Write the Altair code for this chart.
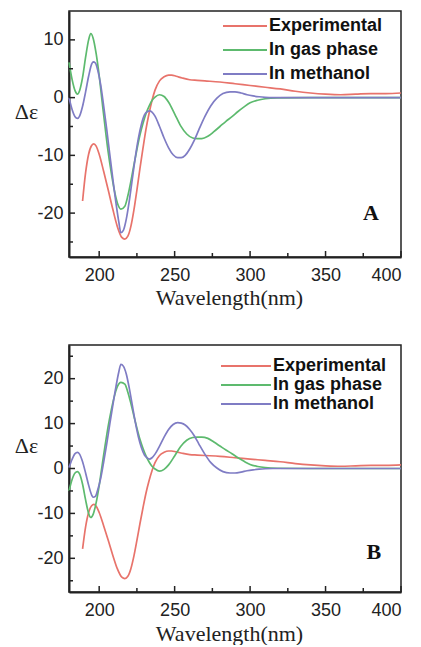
import altair as alt
import pandas as pd

SERIES = ["Experimental", "In gas phase", "In methanol"]
COLORS = ["#e8736b", "#5dba6e", "#7f7cc4"]

# Experimental spectrum (same in both panels)
EXP_WL = [189, 191, 193, 195, 196.5, 198, 200, 203, 206, 209, 212, 215, 217, 219, 221, 223, 225, 227, 229,
          231, 233, 235, 237, 240, 243, 246, 248, 251, 255, 260, 265, 270, 280, 290, 300, 310, 320, 330, 340,
          350, 360, 370, 380, 390, 400]
EXP_VAL = [-17.9, -13, -9.8, -8.3, -8.0, -8.4, -9.8, -12.8, -16, -19.3, -22.3, -24.2, -24.5, -24, -22.3, -19.5,
           -16, -12.3, -8.8, -5.5, -2.8, -0.5, 1.3, 2.9, 3.6, 3.9, 3.9, 3.7, 3.4, 3.1, 3.0, 2.9, 2.7, 2.4, 2.1,
           1.8, 1.5, 1.1, 0.8, 0.6, 0.5, 0.6, 0.7, 0.7, 0.8]

# In gas phase
GAS_WL = [180, 182, 184, 185.6, 187, 189, 191, 193, 194.4, 196, 198, 200, 202, 204, 206, 208, 210, 212, 214.4,
          217, 219, 221, 223, 225, 227, 229, 231, 233, 235, 237, 240, 243, 246, 250, 254, 258, 262, 265, 268,
          272, 276, 280, 284, 288, 292, 296, 300, 305, 310, 318, 340, 360, 380, 400]
GAS_A = [6.1, 3.2, 1.2, 0.6, 1.2, 3.5, 7, 10, 11.1, 10.3, 7.6, 3.8, -0.8, -5.3, -9.5, -13, -16, -18.2, -19.3,
         -18.8, -17, -14.5, -11.7, -9, -6.5, -4.5, -2.8, -1.5, -0.5, 0.1, 0.5, 0.2, -0.8, -2.8, -4.9, -6.3, -7,
         -7.1, -7.1, -6.7, -5.9, -5.0, -4.1, -3.3, -2.4, -1.6, -0.9, -0.45, -0.2, -0.05, 0, 0, 0, 0]
GAS_B = [-5.0, -2.5, -1.0, -0.7, -1.2, -3.5, -7, -10, -10.9, -10.2, -7.6, -3.8, 0.8, 5.3, 9.5, 13, 16, 18.2, 19.2,
         18.8, 17, 14.5, 11.7, 9, 6.5, 4.5, 2.8, 1.5, 0.5, -0.1, -0.6, -0.2, 0.8, 2.8, 4.9, 6.3, 6.9,
         7.0, 7.0, 6.7, 5.9, 5.0, 4.1, 3.3, 2.4, 1.6, 0.9, 0.45, 0.2, 0.05, 0, 0, 0, 0]

# In methanol
MEOH_WL = [180, 182, 184, 185.6, 187, 189, 191, 193, 195, 196, 197.5, 199, 201, 203, 205, 207, 209, 211, 213,
           214.4, 216, 218, 220, 222, 224, 226, 228, 230, 232, 233.3, 235, 237, 240, 243, 246, 249, 252, 254.4,
           257, 260, 263, 266, 270, 274, 278, 282, 286.7, 290, 294, 298, 302, 306, 310, 315, 320, 330, 350,
           375, 400]
MEOH_A = [0, -2, -3.3, -3.6, -3.2, -1.5, 1, 3.7, 5.8, 6.2, 6, 4.8, 2.2, -1.5, -5.5, -9.8, -14, -18, -21.5,
          -23.4, -23, -21, -17.8, -14, -10.2, -7, -4.6, -3, -2.4, -2.3, -2.5, -3.2, -5, -7, -8.7, -9.9, -10.4,
          -10.4, -10, -8.9, -7.4, -5.6, -3.3, -1.4, -0.1, 0.7, 1.0, 1.0, 0.8, 0.5, 0.3, 0.15, 0.05, 0, 0, 0,
          0, 0, 0]
MEOH_B = [0.2, 2, 3.3, 3.6, 3.2, 1.5, -1, -3.7, -5.9, -6.4, -6.2, -4.8, -2.2, 1.5, 5.5, 9.8, 14, 18, 21.5,
          23.2, 22.8, 21, 17.8, 14, 10.2, 7, 4.6, 3, 2.3, 2.1, 2.4, 3.2, 5, 7, 8.7, 9.8, 10.2,
          10.1, 9.7, 8.7, 7.3, 5.5, 3.2, 1.3, 0.1, -0.7, -1.0, -1.0, -0.8, -0.5, -0.3, -0.15, -0.05, 0, 0, 0,
          0, 0, 0]

X_MAJOR = [200, 250, 300, 350, 400]
X_MINOR = [225, 275, 325, 375]
YA_MAJOR = [-20, -10, 0, 10]
YA_MINOR = [-25, -15, -5, 5]
YB_MAJOR = [-20, -10, 0, 10, 20]
YB_MINOR = [-25, -15, -5, 5, 15, 25]
LEGEND_ROW = [0, 1, 2]


def make_df(gas, meoh):
    rows = []
    for w, v in zip(EXP_WL, EXP_VAL):
        rows.append({"wl": w, "val": v, "series": SERIES[0]})
    for w, v in zip(GAS_WL, gas):
        rows.append({"wl": w, "val": v, "series": SERIES[1]})
    for w, v in zip(MEOH_WL, meoh):
        rows.append({"wl": w, "val": v, "series": SERIES[2]})
    return pd.DataFrame(rows)


W = 332
INK = "#222222"
COLOR_SCALE = alt.Scale(domain=SERIES, range=COLORS)


def panel(df, ydom, ymaj, ymin, letter, letter_pos, height, title_y, leg):
    xs = alt.Scale(domain=[180, 400], nice=False, zero=False)
    ys = alt.Scale(domain=ydom, nice=False, zero=False)
    x_axis = alt.Axis(values=X_MAJOR, title="Wavelength(nm)", ticks=False, tickSize=0, grid=False,
                      domainWidth=2, domainColor=INK, labelFont="Liberation Sans", labelFontSize=18,
                      labelColor=INK, labelPadding=9, labelExpr="datum.value + ''",
                      titleFont="Liberation Serif", titleFontSize=22, titleFontWeight="normal",
                      titleColor=INK, titleX=160, titleY=title_y, titleAlign="center",
                      titleBaseline="alphabetic")
    y_axis = alt.Axis(values=ymaj, title="Δε", ticks=False, tickSize=0, grid=False,
                      domainWidth=2, domainColor=INK, labelFont="Liberation Sans", labelFontSize=18,
                      labelColor=INK, labelPadding=6, labelExpr="datum.value + ''",
                      titleFont="Liberation Serif", titleFontSize=22, titleFontWeight="normal",
                      titleColor=INK, titleAngle=0, titleX=-43, titleY=height / 2 - 23,
                      titleAlign="center", titleBaseline="middle")
    X = alt.X("wl:Q", scale=xs, axis=x_axis)
    Y = alt.Y("val:Q", scale=ys, axis=y_axis)

    lines = alt.Chart(df).mark_line(strokeWidth=1.7, interpolate="monotone").encode(
        x=X, y=Y, color=alt.Color("series:N", scale=COLOR_SCALE, legend=None))
    xmaj = alt.Chart(pd.DataFrame({"wl": X_MAJOR})).mark_rule(color=INK, strokeWidth=1.5).encode(
        x=X, y=alt.value(height), y2=alt.value(height - 6))
    xmin = alt.Chart(pd.DataFrame({"wl": X_MINOR})).mark_rule(color=INK, strokeWidth=1.5).encode(
        x=X, y=alt.value(height), y2=alt.value(height - 4))
    ymj = alt.Chart(pd.DataFrame({"val": ymaj})).mark_rule(color=INK, strokeWidth=1.5).encode(
        y=Y, x=alt.value(0), x2=alt.value(6))
    ymn = alt.Chart(pd.DataFrame({"val": ymin})).mark_rule(color=INK, strokeWidth=1.5).encode(
        y=Y, x=alt.value(0), x2=alt.value(4))
    lab = alt.Chart(pd.DataFrame({"wl": [letter_pos[0]], "val": [letter_pos[1]], "t": [letter]})).mark_text(
        font="Liberation Serif", fontWeight="bold", fontSize=22, color="#111111").encode(
        x=X, y=Y, text="t:N")
    base = alt.layer(lines, xmaj, xmin, ymj, ymn, lab)

    # legend drawn as rules + text, rows placed through their own scale
    ldf = pd.DataFrame({"series": SERIES, "row": LEGEND_ROW})
    lscale = alt.Scale(domain=[0, 2], range=[leg["y0"], leg["y0"] + 2 * leg["dy"]], nice=False, zero=False)
    LY = alt.Y("row:Q", scale=lscale, axis=None)
    lrule = alt.Chart(ldf).mark_rule(strokeWidth=1.8).encode(
        x=alt.value(leg["x0"]), x2=alt.value(leg["x1"]), y=LY,
        color=alt.Color("series:N", scale=COLOR_SCALE, legend=None))
    ltext = alt.Chart(ldf).mark_text(align="left", baseline="middle", font="Liberation Sans",
                                     fontWeight="bold", fontSize=18, color="#111111").encode(
        x=alt.value(leg["tx"]), y=LY, text="series:N")
    legend = alt.layer(lrule, ltext)

    return alt.layer(base, legend).resolve_scale(y="independent").properties(width=W, height=height)


pa = panel(make_df(GAS_A, MEOH_A), [-27.6, 15], YA_MAJOR, YA_MINOR, "A", (380, -20), 246, 47,
           {"x0": 154, "x1": 198, "tx": 200, "y0": 15, "dy": 24})
pb = panel(make_df(GAS_B, MEOH_B), [-27.5, 27.5], YB_MAJOR, YB_MINOR, "B", (382, -18.6), 247, 48,
           {"x0": 152, "x1": 202, "tx": 204, "y0": 21, "dy": 19})

chart = alt.vconcat(pa, pb, spacing=35).resolve_scale(
    color="independent", x="independent", y="independent").properties(
    padding={"left": 5, "top": 2, "right": 5, "bottom": 0}
).configure_view(stroke=INK, strokeWidth=1.5)

chart.save("out.html", embed_options={"renderer": "svg", "actions": False})
